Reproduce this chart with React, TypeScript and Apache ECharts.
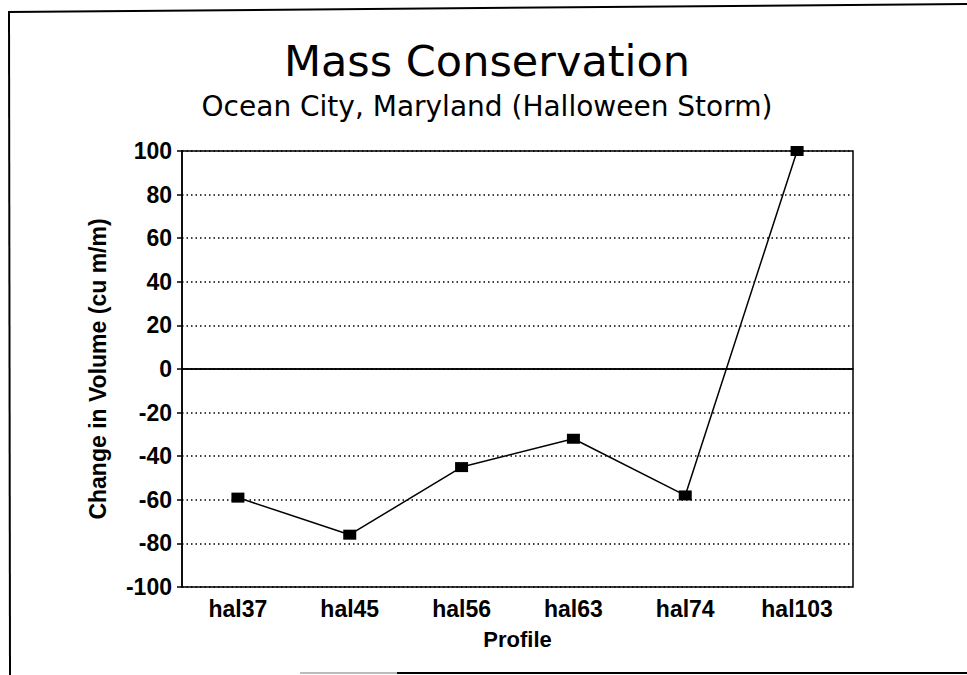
import React, { useEffect, useRef } from "react";
import * as echarts from "echarts";

const categories = ["hal37", "hal45", "hal56", "hal63", "hal74", "hal103"];
const volumeChange = [-59, -76, -45, -32, -58, 100];
const yTicks = { min: -100, max: 100, interval: 20 };
const titleText = "Mass Conservation";
const subtitleText = "Ocean City, Maryland (Halloween Storm)";
const xName = "Profile";
const yName = "Change in Volume (cu m/m)";

export default function App() {
  const ref = useRef<HTMLDivElement>(null);
  useEffect(() => {
    if (!ref.current) return;
    const chart = echarts.init(ref.current, null, { renderer: "svg" });
    const labelFont = {
      fontFamily: "'Liberation Sans', Arial, sans-serif",
      fontWeight: "bold" as const,
      fontSize: 23,
      color: "#000",
    };
    chart.setOption({
      animation: false,
      backgroundColor: "#fff",
      grid: {
        left: 182,
        right: 967 - 853,
        top: 151,
        bottom: 675 - 587,
        show: true,
        borderColor: "#000",
        borderWidth: 1.5,
        backgroundColor: "transparent",
      },
      graphic: [
        {
          type: "text",
          style: {
            text: titleText,
            x: 487,
            y: 61,
            align: "center",
            verticalAlign: "middle",
            fontFamily: "'DejaVu Sans', sans-serif",
            fontSize: 43,
            fill: "#000",
          },
        },
        {
          type: "text",
          style: {
            text: subtitleText,
            x: 487,
            y: 106,
            align: "center",
            verticalAlign: "middle",
            fontFamily: "'DejaVu Sans', sans-serif",
            fontSize: 28,
            fill: "#000",
          },
        },
        {
          type: "line",
          shape: { x1: 8, y1: 12, x2: 967, y2: 4 },
          style: { stroke: "#000", lineWidth: 2 },
        },
        {
          type: "line",
          shape: { x1: 9, y1: 11, x2: 10, y2: 675 },
          style: { stroke: "#000", lineWidth: 2 },
        },
        {
          type: "line",
          shape: { x1: 300, y1: 673, x2: 397, y2: 673 },
          style: { stroke: "#bbb", lineWidth: 2 },
        },
        {
          type: "line",
          shape: { x1: 397, y1: 673, x2: 967, y2: 673 },
          style: { stroke: "#000", lineWidth: 2 },
        },
      ],
      xAxis: {
        type: "category",
        data: categories,
        boundaryGap: true,
        name: xName,
        nameLocation: "middle",
        nameGap: 41,
        nameTextStyle: { ...labelFont, fontSize: 22 },
        axisLine: { lineStyle: { color: "#000", width: 1.5 } },
        axisTick: { alignWithLabel: true, length: 6, lineStyle: { color: "#000", width: 1.5 } },
        axisLabel: { ...labelFont, margin: 10 },
        splitLine: { show: false },
      },
      yAxis: {
        type: "value",
        min: yTicks.min,
        max: yTicks.max,
        interval: yTicks.interval,
        name: yName,
        nameLocation: "middle",
        nameGap: 73,
        nameTextStyle: labelFont,
        axisLine: { show: true, onZero: false, lineStyle: { color: "#000", width: 1.5 } },
        axisTick: { show: true, length: 5, lineStyle: { color: "#000", width: 1.5 } },
        axisLabel: { ...labelFont, margin: 10 },
        splitLine: { show: true, lineStyle: { color: "#000", width: 1.5, type: [1.5, 3] } },
      },
      series: [
        {
          type: "line",
          data: volumeChange,
          clip: false,
          symbol: "rect",
          symbolSize: [13, 10],
          itemStyle: { color: "#000" },
          lineStyle: { color: "#000", width: 1.5 },
          markLine: {
            silent: true,
            symbol: "none",
            label: { show: false },
            lineStyle: { color: "#000", width: 1.5, type: "solid" },
            data: [{ yAxis: 0 }],
          },
        },
      ],
    });
    return () => chart.dispose();
  }, []);
  return (
    <div
      ref={ref}
      style={{ position: "fixed", left: 0, top: 0, width: 967, height: 675 }}
    />
  );
}
